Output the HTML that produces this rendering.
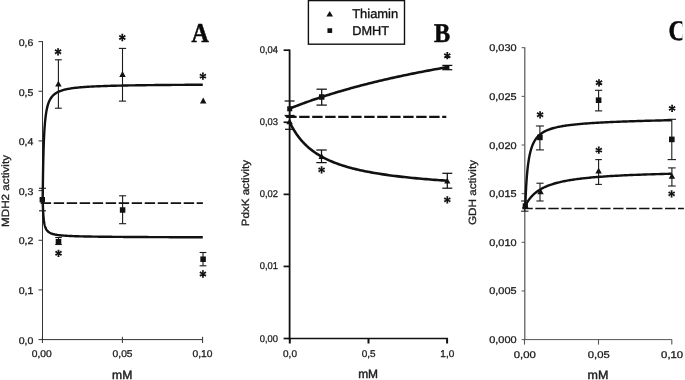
<!DOCTYPE html>
<html><head><meta charset="utf-8"><title>Figure</title>
<style>
html,body{margin:0;padding:0;background:#fff;}
body{width:685px;height:380px;overflow:hidden;font-family:"Liberation Sans",sans-serif;}
svg{display:block;}
</style></head><body>
<svg width="685" height="380" viewBox="0 0 685 380">
<rect width="685" height="380" fill="#fff"/>
<g opacity="0.999" text-rendering="geometricPrecision">
<line x1="42.5" y1="41.1" x2="42.5" y2="340.1" stroke="#333" stroke-width="1" />
<line x1="42.0" y1="339.6" x2="202.6" y2="339.6" stroke="#333" stroke-width="1" />
<line x1="38.5" y1="339.60" x2="42.5" y2="339.60" stroke="#333" stroke-width="1" />
<text x="33.4" y="343.56" font-family="Liberation Sans" font-size="9.8" font-weight="normal" text-anchor="end" fill="#222" stroke="#222" stroke-width="0.3" textLength="14.7" lengthAdjust="spacingAndGlyphs" >0,0</text>
<line x1="38.5" y1="289.93" x2="42.5" y2="289.93" stroke="#333" stroke-width="1" />
<text x="33.4" y="294.01" font-family="Liberation Sans" font-size="9.8" font-weight="normal" text-anchor="end" fill="#222" stroke="#222" stroke-width="0.3" textLength="14.7" lengthAdjust="spacingAndGlyphs" >0,1</text>
<line x1="38.5" y1="240.27" x2="42.5" y2="240.27" stroke="#333" stroke-width="1" />
<text x="33.4" y="244.46" font-family="Liberation Sans" font-size="9.8" font-weight="normal" text-anchor="end" fill="#222" stroke="#222" stroke-width="0.3" textLength="14.7" lengthAdjust="spacingAndGlyphs" >0,2</text>
<line x1="38.5" y1="190.60" x2="42.5" y2="190.60" stroke="#333" stroke-width="1" />
<text x="33.4" y="194.91" font-family="Liberation Sans" font-size="9.8" font-weight="normal" text-anchor="end" fill="#222" stroke="#222" stroke-width="0.3" textLength="14.7" lengthAdjust="spacingAndGlyphs" >0,3</text>
<line x1="38.5" y1="140.93" x2="42.5" y2="140.93" stroke="#333" stroke-width="1" />
<text x="33.4" y="145.36" font-family="Liberation Sans" font-size="9.8" font-weight="normal" text-anchor="end" fill="#222" stroke="#222" stroke-width="0.3" textLength="14.7" lengthAdjust="spacingAndGlyphs" >0,4</text>
<line x1="38.5" y1="91.27" x2="42.5" y2="91.27" stroke="#333" stroke-width="1" />
<text x="33.4" y="95.81" font-family="Liberation Sans" font-size="9.8" font-weight="normal" text-anchor="end" fill="#222" stroke="#222" stroke-width="0.3" textLength="14.7" lengthAdjust="spacingAndGlyphs" >0,5</text>
<line x1="38.5" y1="41.60" x2="42.5" y2="41.60" stroke="#333" stroke-width="1" />
<text x="33.4" y="46.26" font-family="Liberation Sans" font-size="9.8" font-weight="normal" text-anchor="end" fill="#222" stroke="#222" stroke-width="0.3" textLength="14.7" lengthAdjust="spacingAndGlyphs" >0,6</text>
<line x1="42.4" y1="336.8" x2="42.4" y2="343.0" stroke="#333" stroke-width="1" />
<text x="41.8" y="356.7" font-family="Liberation Sans" font-size="9.8" font-weight="normal" text-anchor="middle" fill="#222" stroke="#222" stroke-width="0.3" textLength="20.0" lengthAdjust="spacingAndGlyphs" >0,00</text>
<line x1="122.4" y1="336.8" x2="122.4" y2="343.0" stroke="#333" stroke-width="1" />
<text x="122.6" y="356.7" font-family="Liberation Sans" font-size="9.8" font-weight="normal" text-anchor="middle" fill="#222" stroke="#222" stroke-width="0.3" textLength="20.0" lengthAdjust="spacingAndGlyphs" >0,05</text>
<line x1="202.6" y1="336.8" x2="202.6" y2="343.0" stroke="#333" stroke-width="1" />
<text x="202.5" y="356.7" font-family="Liberation Sans" font-size="9.8" font-weight="normal" text-anchor="middle" fill="#222" stroke="#222" stroke-width="0.3" textLength="20.0" lengthAdjust="spacingAndGlyphs" >0,10</text>
<text x="122.2" y="378.5" font-family="Liberation Sans" font-size="12" font-weight="normal" text-anchor="middle" fill="#222" stroke="#222" stroke-width="0.45" textLength="20.2" lengthAdjust="spacingAndGlyphs" >mM</text>
<text transform="translate(8.6,191) rotate(-90)" font-family="Liberation Sans" font-size="10.5" text-anchor="middle" fill="#222" stroke="#222" stroke-width="0.3" textLength="72" lengthAdjust="spacingAndGlyphs">MDH2 activity</text>
<line x1="40.7" y1="203.0" x2="202.9" y2="203.0" stroke="#111" stroke-width="1.75" stroke-dasharray="10.4 2.6"/>
<path d="M42.70,199.60 L42.70,199.55 L42.70,199.32 L42.71,198.83 L42.72,198.03 L42.73,196.88 L42.74,195.37 L42.76,193.49 L42.79,191.25 L42.82,188.66 L42.86,185.75 L42.90,182.58 L42.95,179.17 L43.00,175.58 L43.06,171.87 L43.13,168.07 L43.21,164.23 L43.29,160.41 L43.38,156.62 L43.48,152.91 L43.58,149.30 L43.70,145.81 L43.82,142.45 L43.95,139.24 L44.10,136.18 L44.25,133.27 L44.40,130.52 L44.57,127.92 L44.75,125.47 L44.94,123.16 L45.14,120.99 L45.35,118.96 L45.56,117.05 L45.79,115.26 L46.03,113.58 L46.28,112.01 L46.54,110.54 L46.82,109.16 L47.10,107.87 L47.40,106.66 L47.70,105.52 L48.02,104.46 L48.35,103.46 L48.69,102.52 L49.05,101.64 L49.42,100.81 L49.80,100.04 L50.19,99.30 L50.59,98.61 L51.01,97.97 L51.44,97.35 L51.88,96.78 L52.34,96.23 L52.81,95.72 L53.29,95.23 L53.79,94.77 L54.30,94.33 L54.83,93.92 L55.37,93.53 L55.92,93.16 L56.49,92.81 L57.07,92.47 L57.66,92.16 L58.28,91.86 L58.90,91.57 L59.54,91.30 L60.20,91.04 L60.87,90.79 L61.55,90.55 L62.25,90.33 L62.97,90.11 L63.70,89.91 L64.45,89.71 L65.21,89.52 L65.99,89.34 L66.78,89.17 L67.60,89.01 L68.42,88.85 L69.27,88.70 L70.13,88.56 L71.00,88.42 L71.89,88.28 L72.80,88.16 L73.73,88.03 L74.67,87.92 L75.63,87.80 L76.61,87.69 L77.61,87.59 L78.62,87.49 L79.65,87.39 L80.69,87.30 L81.76,87.21 L82.84,87.12 L83.94,87.04 L85.06,86.96 L86.19,86.88 L87.34,86.81 L88.52,86.73 L89.71,86.66 L90.91,86.60 L92.14,86.53 L93.39,86.47 L94.65,86.41 L95.93,86.35 L97.23,86.29 L98.56,86.23 L99.89,86.18 L101.25,86.13 L102.63,86.08 L104.03,86.03 L105.44,85.98 L106.88,85.94 L108.34,85.89 L109.81,85.85 L111.30,85.81 L112.82,85.77 L114.35,85.73 L115.91,85.69 L117.48,85.65 L119.08,85.62 L120.69,85.58 L122.33,85.55 L123.98,85.51 L125.66,85.48 L127.35,85.45 L129.07,85.42 L130.81,85.39 L132.57,85.36 L134.35,85.33 L136.15,85.31 L137.97,85.28 L139.81,85.25 L141.68,85.23 L143.56,85.20 L145.47,85.18 L147.39,85.16 L149.34,85.13 L151.32,85.11 L153.31,85.09 L155.32,85.07 L157.36,85.05 L159.42,85.03 L161.50,85.01 L163.60,84.99 L165.73,84.97 L167.87,84.95 L170.04,84.94 L172.23,84.92 L174.45,84.90 L176.69,84.88 L178.94,84.87 L181.23,84.85 L183.53,84.84 L185.86,84.82 L188.21,84.81 L190.58,84.79 L192.98,84.78 L195.40,84.76 L197.84,84.75 L200.31,84.74 L202.80,84.73" fill="none" stroke="#111" stroke-width="2.4" stroke-linejoin="round" stroke-linecap="butt"/>
<path d="M42.70,199.60 L42.70,199.62 L42.70,199.71 L42.71,199.90 L42.72,200.22 L42.73,200.66 L42.74,201.25 L42.76,201.98 L42.79,202.84 L42.82,203.82 L42.86,204.91 L42.90,206.10 L42.95,207.35 L43.00,208.65 L43.06,209.99 L43.13,211.33 L43.21,212.67 L43.29,213.99 L43.38,215.28 L43.48,216.53 L43.58,217.73 L43.70,218.88 L43.82,219.97 L43.95,221.00 L44.10,221.97 L44.25,222.89 L44.40,223.75 L44.57,224.55 L44.75,225.30 L44.94,226.00 L45.14,226.66 L45.35,227.27 L45.56,227.84 L45.79,228.37 L46.03,228.87 L46.28,229.33 L46.54,229.76 L46.82,230.16 L47.10,230.53 L47.40,230.88 L47.70,231.21 L48.02,231.52 L48.35,231.80 L48.69,232.07 L49.05,232.32 L49.42,232.55 L49.80,232.77 L50.19,232.98 L50.59,233.18 L51.01,233.36 L51.44,233.53 L51.88,233.69 L52.34,233.85 L52.81,233.99 L53.29,234.13 L53.79,234.26 L54.30,234.38 L54.83,234.49 L55.37,234.60 L55.92,234.71 L56.49,234.80 L57.07,234.90 L57.66,234.99 L58.28,235.07 L58.90,235.15 L59.54,235.23 L60.20,235.30 L60.87,235.37 L61.55,235.43 L62.25,235.50 L62.97,235.56 L63.70,235.61 L64.45,235.67 L65.21,235.72 L65.99,235.77 L66.78,235.82 L67.60,235.87 L68.42,235.91 L69.27,235.95 L70.13,236.00 L71.00,236.04 L71.89,236.07 L72.80,236.11 L73.73,236.15 L74.67,236.18 L75.63,236.21 L76.61,236.24 L77.61,236.27 L78.62,236.30 L79.65,236.33 L80.69,236.36 L81.76,236.39 L82.84,236.41 L83.94,236.44 L85.06,236.46 L86.19,236.48 L87.34,236.51 L88.52,236.53 L89.71,236.55 L90.91,236.57 L92.14,236.59 L93.39,236.61 L94.65,236.63 L95.93,236.65 L97.23,236.67 L98.56,236.68 L99.89,236.70 L101.25,236.72 L102.63,236.73 L104.03,236.75 L105.44,236.76 L106.88,236.78 L108.34,236.79 L109.81,236.81 L111.30,236.82 L112.82,236.84 L114.35,236.85 L115.91,236.86 L117.48,236.88 L119.08,236.89 L120.69,236.90 L122.33,236.92 L123.98,236.93 L125.66,236.94 L127.35,236.95 L129.07,236.96 L130.81,236.98 L132.57,236.99 L134.35,237.00 L136.15,237.01 L137.97,237.02 L139.81,237.03 L141.68,237.04 L143.56,237.05 L145.47,237.06 L147.39,237.07 L149.34,237.08 L151.32,237.09 L153.31,237.10 L155.32,237.11 L157.36,237.12 L159.42,237.13 L161.50,237.14 L163.60,237.15 L165.73,237.16 L167.87,237.17 L170.04,237.18 L172.23,237.19 L174.45,237.19 L176.69,237.20 L178.94,237.21 L181.23,237.22 L183.53,237.23 L185.86,237.24 L188.21,237.25 L190.58,237.26 L192.98,237.26 L195.40,237.27 L197.84,237.28 L200.31,237.29 L202.80,237.30" fill="none" stroke="#111" stroke-width="2.4" stroke-linejoin="round" stroke-linecap="butt"/>
<line x1="42.5" y1="188.3" x2="42.5" y2="210.8" stroke="#1a1a1a" stroke-width="1.1" />
<line x1="39.0" y1="188.3" x2="46.0" y2="188.3" stroke="#1a1a1a" stroke-width="1.1" />
<line x1="39.0" y1="210.8" x2="46.0" y2="210.8" stroke="#1a1a1a" stroke-width="1.1" />
<rect x="39.60" y="197.00" width="5.4" height="5.4" fill="#111"/>
<line x1="58.4" y1="59.8" x2="58.4" y2="108.2" stroke="#1a1a1a" stroke-width="1.1" />
<line x1="55.0" y1="59.8" x2="61.8" y2="59.8" stroke="#1a1a1a" stroke-width="1.1" />
<line x1="55.0" y1="108.2" x2="61.8" y2="108.2" stroke="#1a1a1a" stroke-width="1.1" />
<path d="M55.15,86.50 L61.65,86.50 L58.40,80.70 Z" fill="#111"/>
<line x1="122.5" y1="48.4" x2="122.5" y2="101.1" stroke="#1a1a1a" stroke-width="1.1" />
<line x1="118.9" y1="48.4" x2="126.1" y2="48.4" stroke="#1a1a1a" stroke-width="1.1" />
<line x1="118.9" y1="101.1" x2="126.1" y2="101.1" stroke="#1a1a1a" stroke-width="1.1" />
<path d="M119.25,76.90 L125.75,76.90 L122.50,71.10 Z" fill="#111"/>
<path d="M199.95,103.40 L206.45,103.40 L203.20,97.60 Z" fill="#111"/>
<line x1="58.5" y1="237.5" x2="58.5" y2="244.5" stroke="#1a1a1a" stroke-width="1.1" />
<line x1="55.2" y1="237.5" x2="61.8" y2="237.5" stroke="#1a1a1a" stroke-width="1.1" />
<line x1="55.2" y1="244.5" x2="61.8" y2="244.5" stroke="#1a1a1a" stroke-width="1.1" />
<rect x="55.70" y="238.90" width="5.6" height="5.6" fill="#111"/>
<line x1="122.6" y1="195.8" x2="122.6" y2="223.7" stroke="#1a1a1a" stroke-width="1.1" />
<line x1="119.1" y1="195.8" x2="126.1" y2="195.8" stroke="#1a1a1a" stroke-width="1.1" />
<line x1="119.1" y1="223.7" x2="126.1" y2="223.7" stroke="#1a1a1a" stroke-width="1.1" />
<rect x="119.85" y="207.25" width="5.5" height="5.5" fill="#111"/>
<line x1="203.0" y1="252.5" x2="203.0" y2="265.8" stroke="#1a1a1a" stroke-width="1.1" />
<line x1="199.6" y1="252.5" x2="206.4" y2="252.5" stroke="#1a1a1a" stroke-width="1.1" />
<line x1="199.6" y1="265.8" x2="206.4" y2="265.8" stroke="#1a1a1a" stroke-width="1.1" />
<rect x="200.35" y="256.45" width="5.5" height="5.5" fill="#111"/>
<path d="M58.55,51.80 L59.05,48.15 L57.05,48.15 L57.55,51.80Z M58.31,52.23 L61.61,50.83 L60.58,49.11 L57.79,51.37Z M58.31,51.37 L55.52,49.11 L54.49,50.83 L57.79,52.23Z M57.55,51.80 L57.05,55.45 L59.05,55.45 L58.55,51.80Z M57.79,51.37 L54.49,52.77 L55.52,54.49 L58.31,52.23Z M57.79,52.23 L60.58,54.49 L61.61,52.77 L58.31,51.37Z" fill="#111"/>
<circle cx="58.05" cy="51.80" r="0.9" fill="#111"/>
<path d="M122.80,37.50 L123.30,33.85 L121.30,33.85 L121.80,37.50Z M122.56,37.93 L125.86,36.53 L124.83,34.81 L122.04,37.07Z M122.56,37.07 L119.77,34.81 L118.74,36.53 L122.04,37.93Z M121.80,37.50 L121.30,41.15 L123.30,41.15 L122.80,37.50Z M122.04,37.07 L118.74,38.47 L119.77,40.19 L122.56,37.93Z M122.04,37.93 L124.83,40.19 L125.86,38.47 L122.56,37.07Z" fill="#111"/>
<circle cx="122.30" cy="37.50" r="0.9" fill="#111"/>
<path d="M203.40,76.10 L203.90,72.45 L201.90,72.45 L202.40,76.10Z M203.16,76.53 L206.46,75.13 L205.43,73.41 L202.64,75.67Z M203.16,75.67 L200.37,73.41 L199.34,75.13 L202.64,76.53Z M202.40,76.10 L201.90,79.75 L203.90,79.75 L203.40,76.10Z M202.64,75.67 L199.34,77.07 L200.37,78.79 L203.16,76.53Z M202.64,76.53 L205.43,78.79 L206.46,77.07 L203.16,75.67Z" fill="#111"/>
<circle cx="202.90" cy="76.10" r="0.9" fill="#111"/>
<path d="M59.00,253.30 L59.50,249.65 L57.50,249.65 L58.00,253.30Z M58.76,253.73 L62.06,252.33 L61.03,250.61 L58.24,252.87Z M58.76,252.87 L55.97,250.61 L54.94,252.33 L58.24,253.73Z M58.00,253.30 L57.50,256.95 L59.50,256.95 L59.00,253.30Z M58.24,252.87 L54.94,254.27 L55.97,255.99 L58.76,253.73Z M58.24,253.73 L61.03,255.99 L62.06,254.27 L58.76,252.87Z" fill="#111"/>
<circle cx="58.50" cy="253.30" r="0.9" fill="#111"/>
<path d="M203.40,274.00 L203.90,270.35 L201.90,270.35 L202.40,274.00Z M203.16,274.43 L206.46,273.03 L205.43,271.31 L202.64,273.57Z M203.16,273.57 L200.37,271.31 L199.34,273.03 L202.64,274.43Z M202.40,274.00 L201.90,277.65 L203.90,277.65 L203.40,274.00Z M202.64,273.57 L199.34,274.97 L200.37,276.69 L203.16,274.43Z M202.64,274.43 L205.43,276.69 L206.46,274.97 L203.16,273.57Z" fill="#111"/>
<circle cx="202.90" cy="274.00" r="0.9" fill="#111"/>
<text transform="translate(200.2,41.7) scale(0.96,1.09)" font-family="Liberation Serif" font-size="25" font-weight="bold" text-anchor="middle" fill="#0a0a0a" stroke="#0a0a0a" stroke-width="0.5" >A</text>
<line x1="289.6" y1="49.400000000000006" x2="289.6" y2="339.3" stroke="#111" stroke-width="1.8" />
<line x1="288.8" y1="338.5" x2="447.9" y2="338.5" stroke="#111" stroke-width="1.7" />
<line x1="283.6" y1="338.50" x2="289.6" y2="338.50" stroke="#111" stroke-width="1.7" />
<text x="278.0" y="341.50" font-family="Liberation Sans" font-size="9.8" font-weight="normal" text-anchor="end" fill="#222" stroke="#222" stroke-width="0.3" textLength="18.2" lengthAdjust="spacingAndGlyphs" >0,00</text>
<line x1="283.6" y1="266.43" x2="289.6" y2="266.43" stroke="#111" stroke-width="1.7" />
<text x="278.0" y="269.43" font-family="Liberation Sans" font-size="9.8" font-weight="normal" text-anchor="end" fill="#222" stroke="#222" stroke-width="0.3" textLength="18.2" lengthAdjust="spacingAndGlyphs" >0,01</text>
<line x1="283.6" y1="194.35" x2="289.6" y2="194.35" stroke="#111" stroke-width="1.7" />
<text x="278.0" y="197.35" font-family="Liberation Sans" font-size="9.8" font-weight="normal" text-anchor="end" fill="#222" stroke="#222" stroke-width="0.3" textLength="18.2" lengthAdjust="spacingAndGlyphs" >0,02</text>
<line x1="283.6" y1="122.27" x2="289.6" y2="122.27" stroke="#111" stroke-width="1.7" />
<text x="278.0" y="125.27" font-family="Liberation Sans" font-size="9.8" font-weight="normal" text-anchor="end" fill="#222" stroke="#222" stroke-width="0.3" textLength="18.2" lengthAdjust="spacingAndGlyphs" >0,03</text>
<line x1="283.6" y1="50.20" x2="289.6" y2="50.20" stroke="#111" stroke-width="1.7" />
<text x="278.0" y="53.20" font-family="Liberation Sans" font-size="9.8" font-weight="normal" text-anchor="end" fill="#222" stroke="#222" stroke-width="0.3" textLength="18.2" lengthAdjust="spacingAndGlyphs" >0,04</text>
<line x1="289.8" y1="338.5" x2="289.8" y2="343.5" stroke="#111" stroke-width="2.0" />
<text x="290.0" y="356.5" font-family="Liberation Sans" font-size="9.8" font-weight="normal" text-anchor="middle" fill="#222" stroke="#222" stroke-width="0.3" textLength="13.9" lengthAdjust="spacingAndGlyphs" >0,0</text>
<line x1="368.5" y1="338.5" x2="368.5" y2="343.5" stroke="#111" stroke-width="2.0" />
<text x="368.7" y="356.5" font-family="Liberation Sans" font-size="9.8" font-weight="normal" text-anchor="middle" fill="#222" stroke="#222" stroke-width="0.3" textLength="13.9" lengthAdjust="spacingAndGlyphs" >0,5</text>
<line x1="447.1" y1="338.5" x2="447.1" y2="343.5" stroke="#111" stroke-width="2.0" />
<text x="447.3" y="356.5" font-family="Liberation Sans" font-size="9.8" font-weight="normal" text-anchor="middle" fill="#222" stroke="#222" stroke-width="0.3" textLength="13.9" lengthAdjust="spacingAndGlyphs" >1,0</text>
<text x="368.1" y="377.7" font-family="Liberation Sans" font-size="12" font-weight="normal" text-anchor="middle" fill="#222" stroke="#222" stroke-width="0.45" textLength="19.9" lengthAdjust="spacingAndGlyphs" >mM</text>
<text transform="translate(248.9,193.1) rotate(-90)" font-family="Liberation Sans" font-size="10.5" text-anchor="middle" fill="#222" stroke="#222" stroke-width="0.3" textLength="66.3" lengthAdjust="spacingAndGlyphs">PdxK activity</text>
<rect x="308.4" y="0.6" width="96.1" height="43.6" fill="none" stroke="#111" stroke-width="1.4"/>
<path d="M326.40,16.60 L333.00,16.60 L329.70,11.00 Z" fill="#111"/>
<rect x="327.45" y="28.25" width="4.7" height="4.7" fill="#111"/>
<text x="352.2" y="18.4" font-family="Liberation Sans" font-size="12.8" font-weight="normal" text-anchor="start" fill="#111" stroke="#111" stroke-width="0.35" textLength="46.0" lengthAdjust="spacingAndGlyphs" >Thiamin</text>
<text x="352.2" y="35.2" font-family="Liberation Sans" font-size="12.8" font-weight="normal" text-anchor="start" fill="#111" stroke="#111" stroke-width="0.35" textLength="36.8" lengthAdjust="spacingAndGlyphs" >DMHT</text>
<line x1="286.2" y1="116.9" x2="446.3" y2="116.9" stroke="#111" stroke-width="2.3" stroke-dasharray="10.4 2.6"/>
<path d="M289.60,108.60 L289.60,108.60 L289.60,108.60 L289.61,108.60 L289.62,108.59 L289.63,108.59 L289.64,108.58 L289.66,108.57 L289.69,108.56 L289.72,108.55 L289.75,108.54 L289.80,108.52 L289.84,108.50 L289.90,108.48 L289.96,108.46 L290.02,108.43 L290.10,108.40 L290.18,108.37 L290.27,108.33 L290.36,108.29 L290.47,108.25 L290.58,108.21 L290.70,108.16 L290.83,108.11 L290.97,108.05 L291.12,108.00 L291.28,107.93 L291.44,107.87 L291.62,107.80 L291.80,107.73 L292.00,107.65 L292.20,107.57 L292.42,107.48 L292.64,107.40 L292.88,107.30 L293.12,107.21 L293.38,107.11 L293.65,107.00 L293.93,106.89 L294.22,106.78 L294.52,106.66 L294.83,106.54 L295.16,106.42 L295.49,106.29 L295.84,106.15 L296.20,106.02 L296.58,105.87 L296.96,105.73 L297.36,105.57 L297.77,105.42 L298.19,105.26 L298.63,105.09 L299.08,104.92 L299.54,104.75 L300.02,104.57 L300.50,104.39 L301.01,104.20 L301.52,104.01 L302.05,103.82 L302.60,103.62 L303.15,103.41 L303.73,103.20 L304.31,102.99 L304.91,102.77 L305.53,102.55 L306.16,102.32 L306.80,102.09 L307.46,101.85 L308.13,101.61 L308.82,101.37 L309.53,101.12 L310.25,100.87 L310.98,100.61 L311.73,100.35 L312.50,100.09 L313.28,99.82 L314.08,99.54 L314.89,99.27 L315.72,98.98 L316.56,98.70 L317.42,98.41 L318.30,98.12 L319.20,97.82 L320.11,97.52 L321.03,97.21 L321.98,96.90 L322.94,96.59 L323.92,96.27 L324.91,95.95 L325.92,95.63 L326.95,95.30 L328.00,94.97 L329.06,94.64 L330.14,94.30 L331.24,93.96 L332.36,93.62 L333.49,93.27 L334.64,92.92 L335.81,92.57 L337.00,92.21 L338.21,91.85 L339.43,91.49 L340.67,91.13 L341.94,90.76 L343.22,90.39 L344.51,90.01 L345.83,89.64 L347.17,89.26 L348.52,88.88 L349.89,88.50 L351.29,88.11 L352.70,87.72 L354.13,87.33 L355.58,86.94 L357.05,86.55 L358.54,86.15 L360.04,85.75 L361.57,85.35 L363.12,84.95 L364.69,84.55 L366.28,84.14 L367.88,83.73 L369.51,83.32 L371.16,82.91 L372.83,82.50 L374.51,82.09 L376.22,81.67 L377.95,81.26 L379.70,80.84 L381.47,80.42 L383.26,80.00 L385.07,79.58 L386.91,79.16 L388.76,78.74 L390.63,78.32 L392.53,77.89 L394.45,77.47 L396.38,77.04 L398.34,76.62 L400.32,76.19 L402.33,75.77 L404.35,75.34 L406.40,74.91 L408.46,74.48 L410.55,74.05 L412.66,73.63 L414.79,73.20 L416.95,72.77 L419.13,72.34 L421.33,71.91 L423.55,71.48 L425.79,71.06 L428.06,70.63 L430.35,70.20 L432.66,69.77 L434.99,69.34 L437.35,68.92 L439.73,68.49 L442.13,68.06 L444.55,67.64 L447.00,67.21" fill="none" stroke="#111" stroke-width="2.6" stroke-linejoin="round" stroke-linecap="butt"/>
<path d="M289.60,122.00 L289.60,122.00 L289.60,122.01 L289.61,122.02 L289.62,122.03 L289.63,122.06 L289.64,122.09 L289.66,122.13 L289.69,122.18 L289.72,122.25 L289.75,122.32 L289.80,122.41 L289.84,122.51 L289.90,122.62 L289.96,122.74 L290.02,122.88 L290.10,123.03 L290.18,123.20 L290.27,123.38 L290.36,123.57 L290.47,123.78 L290.58,124.00 L290.70,124.24 L290.83,124.50 L290.97,124.77 L291.12,125.05 L291.28,125.35 L291.44,125.67 L291.62,126.00 L291.80,126.34 L292.00,126.70 L292.20,127.07 L292.42,127.46 L292.64,127.86 L292.88,128.28 L293.12,128.70 L293.38,129.14 L293.65,129.60 L293.93,130.06 L294.22,130.54 L294.52,131.02 L294.83,131.52 L295.16,132.03 L295.49,132.55 L295.84,133.08 L296.20,133.61 L296.58,134.16 L296.96,134.71 L297.36,135.27 L297.77,135.83 L298.19,136.40 L298.63,136.98 L299.08,137.56 L299.54,138.15 L300.02,138.74 L300.50,139.34 L301.01,139.94 L301.52,140.54 L302.05,141.14 L302.60,141.75 L303.15,142.35 L303.73,142.96 L304.31,143.56 L304.91,144.17 L305.53,144.78 L306.16,145.38 L306.80,145.99 L307.46,146.59 L308.13,147.19 L308.82,147.79 L309.53,148.38 L310.25,148.98 L310.98,149.57 L311.73,150.15 L312.50,150.73 L313.28,151.31 L314.08,151.89 L314.89,152.45 L315.72,153.02 L316.56,153.58 L317.42,154.13 L318.30,154.68 L319.20,155.23 L320.11,155.77 L321.03,156.30 L321.98,156.83 L322.94,157.35 L323.92,157.87 L324.91,158.38 L325.92,158.88 L326.95,159.38 L328.00,159.87 L329.06,160.35 L330.14,160.83 L331.24,161.31 L332.36,161.77 L333.49,162.23 L334.64,162.69 L335.81,163.14 L337.00,163.58 L338.21,164.01 L339.43,164.44 L340.67,164.87 L341.94,165.28 L343.22,165.69 L344.51,166.10 L345.83,166.50 L347.17,166.89 L348.52,167.27 L349.89,167.65 L351.29,168.03 L352.70,168.40 L354.13,168.76 L355.58,169.12 L357.05,169.47 L358.54,169.82 L360.04,170.16 L361.57,170.49 L363.12,170.82 L364.69,171.15 L366.28,171.47 L367.88,171.78 L369.51,172.09 L371.16,172.39 L372.83,172.69 L374.51,172.99 L376.22,173.27 L377.95,173.56 L379.70,173.84 L381.47,174.11 L383.26,174.38 L385.07,174.65 L386.91,174.91 L388.76,175.17 L390.63,175.42 L392.53,175.67 L394.45,175.92 L396.38,176.16 L398.34,176.39 L400.32,176.63 L402.33,176.85 L404.35,177.08 L406.40,177.30 L408.46,177.52 L410.55,177.73 L412.66,177.94 L414.79,178.15 L416.95,178.35 L419.13,178.55 L421.33,178.75 L423.55,178.95 L425.79,179.14 L428.06,179.32 L430.35,179.51 L432.66,179.69 L434.99,179.87 L437.35,180.04 L439.73,180.22 L442.13,180.39 L444.55,180.55 L447.00,180.72" fill="none" stroke="#111" stroke-width="2.6" stroke-linejoin="round" stroke-linecap="butt"/>
<line x1="289.6" y1="101" x2="289.6" y2="115.5" stroke="#111" stroke-width="1.25" />
<line x1="284.6" y1="101" x2="294.6" y2="101" stroke="#111" stroke-width="1.25" />
<line x1="284.6" y1="115.5" x2="294.6" y2="115.5" stroke="#111" stroke-width="1.25" />
<rect x="287.20" y="106.30" width="5.0" height="5.0" fill="#111"/>
<line x1="321.7" y1="89.2" x2="321.7" y2="105.1" stroke="#111" stroke-width="1.25" />
<line x1="316.5" y1="89.2" x2="326.9" y2="89.2" stroke="#111" stroke-width="1.25" />
<line x1="316.5" y1="105.1" x2="326.9" y2="105.1" stroke="#111" stroke-width="1.25" />
<rect x="318.95" y="94.25" width="5.5" height="5.5" fill="#111"/>
<line x1="447.3" y1="65.4" x2="447.3" y2="69.7" stroke="#111" stroke-width="1.25" />
<line x1="442.3" y1="65.4" x2="452.3" y2="65.4" stroke="#111" stroke-width="1.25" />
<line x1="442.3" y1="69.7" x2="452.3" y2="69.7" stroke="#111" stroke-width="1.25" />
<rect x="445.00" y="65.30" width="4.4" height="4.4" fill="#111"/>
<line x1="289.6" y1="116" x2="289.6" y2="129.3" stroke="#111" stroke-width="1.25" />
<line x1="285.0" y1="116" x2="294.20000000000005" y2="116" stroke="#111" stroke-width="1.25" />
<line x1="285.0" y1="129.3" x2="294.20000000000005" y2="129.3" stroke="#111" stroke-width="1.25" />
<path d="M286.35,124.30 L292.85,124.30 L289.60,118.50 Z" fill="#111"/>
<line x1="321.5" y1="150.0" x2="321.5" y2="162.6" stroke="#111" stroke-width="1.25" />
<line x1="316.3" y1="150.0" x2="326.7" y2="150.0" stroke="#111" stroke-width="1.25" />
<line x1="316.3" y1="162.6" x2="326.7" y2="162.6" stroke="#111" stroke-width="1.25" />
<path d="M318.50,159.10 L324.70,159.10 L321.60,153.30 Z" fill="#111"/>
<line x1="447.3" y1="173.3" x2="447.3" y2="188.2" stroke="#111" stroke-width="1.25" />
<line x1="442.3" y1="173.3" x2="452.3" y2="173.3" stroke="#111" stroke-width="1.25" />
<line x1="442.3" y1="188.2" x2="452.3" y2="188.2" stroke="#111" stroke-width="1.25" />
<path d="M444.20,183.50 L450.40,183.50 L447.30,177.70 Z" fill="#111"/>
<path d="M447.80,55.70 L448.30,52.05 L446.30,52.05 L446.80,55.70Z M447.56,56.13 L450.86,54.73 L449.83,53.01 L447.04,55.27Z M447.56,55.27 L444.77,53.01 L443.74,54.73 L447.04,56.13Z M446.80,55.70 L446.30,59.35 L448.30,59.35 L447.80,55.70Z M447.04,55.27 L443.74,56.67 L444.77,58.39 L447.56,56.13Z M447.04,56.13 L449.83,58.39 L450.86,56.67 L447.56,55.27Z" fill="#111"/>
<circle cx="447.30" cy="55.70" r="0.9" fill="#111"/>
<path d="M322.10,169.90 L322.60,166.25 L320.60,166.25 L321.10,169.90Z M321.86,170.33 L325.16,168.93 L324.13,167.21 L321.34,169.47Z M321.86,169.47 L319.07,167.21 L318.04,168.93 L321.34,170.33Z M321.10,169.90 L320.60,173.55 L322.60,173.55 L322.10,169.90Z M321.34,169.47 L318.04,170.87 L319.07,172.59 L321.86,170.33Z M321.34,170.33 L324.13,172.59 L325.16,170.87 L321.86,169.47Z" fill="#111"/>
<circle cx="321.60" cy="169.90" r="0.9" fill="#111"/>
<path d="M447.80,199.90 L448.30,196.25 L446.30,196.25 L446.80,199.90Z M447.56,200.33 L450.86,198.93 L449.83,197.21 L447.04,199.47Z M447.56,199.47 L444.77,197.21 L443.74,198.93 L447.04,200.33Z M446.80,199.90 L446.30,203.55 L448.30,203.55 L447.80,199.90Z M447.04,199.47 L443.74,200.87 L444.77,202.59 L447.56,200.33Z M447.04,200.33 L449.83,202.59 L450.86,200.87 L447.56,199.47Z" fill="#111"/>
<circle cx="447.30" cy="199.90" r="0.9" fill="#111"/>
<text transform="translate(442.0,41.7) scale(0.97,1.09)" font-family="Liberation Serif" font-size="25" font-weight="bold" text-anchor="middle" fill="#0a0a0a" stroke="#0a0a0a" stroke-width="0.5" >B</text>
<line x1="524.8" y1="47.2" x2="524.8" y2="340.1" stroke="#555" stroke-width="1.2" />
<line x1="524.3" y1="339.6" x2="671.8" y2="339.6" stroke="#555" stroke-width="1" />
<line x1="521.5999999999999" y1="339.60" x2="524.8" y2="339.60" stroke="#555" stroke-width="1" />
<text x="516.6" y="343.10" font-family="Liberation Sans" font-size="9.8" font-weight="normal" text-anchor="end" fill="#222" stroke="#222" stroke-width="0.3" textLength="27.4" lengthAdjust="spacingAndGlyphs" >0,000</text>
<line x1="521.5999999999999" y1="290.95" x2="524.8" y2="290.95" stroke="#555" stroke-width="1" />
<text x="516.6" y="294.45" font-family="Liberation Sans" font-size="9.8" font-weight="normal" text-anchor="end" fill="#222" stroke="#222" stroke-width="0.3" textLength="27.4" lengthAdjust="spacingAndGlyphs" >0,005</text>
<line x1="521.5999999999999" y1="242.30" x2="524.8" y2="242.30" stroke="#555" stroke-width="1" />
<text x="516.6" y="245.80" font-family="Liberation Sans" font-size="9.8" font-weight="normal" text-anchor="end" fill="#222" stroke="#222" stroke-width="0.3" textLength="27.4" lengthAdjust="spacingAndGlyphs" >0,010</text>
<line x1="521.5999999999999" y1="193.65" x2="524.8" y2="193.65" stroke="#555" stroke-width="1" />
<text x="516.6" y="197.15" font-family="Liberation Sans" font-size="9.8" font-weight="normal" text-anchor="end" fill="#222" stroke="#222" stroke-width="0.3" textLength="27.4" lengthAdjust="spacingAndGlyphs" >0,015</text>
<line x1="521.5999999999999" y1="145.00" x2="524.8" y2="145.00" stroke="#555" stroke-width="1" />
<text x="516.6" y="148.50" font-family="Liberation Sans" font-size="9.8" font-weight="normal" text-anchor="end" fill="#222" stroke="#222" stroke-width="0.3" textLength="27.4" lengthAdjust="spacingAndGlyphs" >0,020</text>
<line x1="521.5999999999999" y1="96.35" x2="524.8" y2="96.35" stroke="#555" stroke-width="1" />
<text x="516.6" y="99.85" font-family="Liberation Sans" font-size="9.8" font-weight="normal" text-anchor="end" fill="#222" stroke="#222" stroke-width="0.3" textLength="27.4" lengthAdjust="spacingAndGlyphs" >0,025</text>
<line x1="521.5999999999999" y1="47.70" x2="524.8" y2="47.70" stroke="#555" stroke-width="1" />
<text x="516.6" y="51.20" font-family="Liberation Sans" font-size="9.8" font-weight="normal" text-anchor="end" fill="#222" stroke="#222" stroke-width="0.3" textLength="27.4" lengthAdjust="spacingAndGlyphs" >0,030</text>
<line x1="524.5" y1="339.6" x2="524.5" y2="344.6" stroke="#555" stroke-width="1.1" />
<text x="524.8" y="357.9" font-family="Liberation Sans" font-size="9.8" font-weight="normal" text-anchor="middle" fill="#222" stroke="#222" stroke-width="0.3" textLength="22.0" lengthAdjust="spacingAndGlyphs" >0,00</text>
<line x1="598.5" y1="339.6" x2="598.5" y2="344.6" stroke="#555" stroke-width="1.1" />
<text x="598.8" y="357.9" font-family="Liberation Sans" font-size="9.8" font-weight="normal" text-anchor="middle" fill="#222" stroke="#222" stroke-width="0.3" textLength="22.0" lengthAdjust="spacingAndGlyphs" >0,05</text>
<line x1="671.8" y1="339.6" x2="671.8" y2="344.6" stroke="#555" stroke-width="1.1" />
<text x="672.0999999999999" y="357.9" font-family="Liberation Sans" font-size="9.8" font-weight="normal" text-anchor="middle" fill="#222" stroke="#222" stroke-width="0.3" textLength="22.0" lengthAdjust="spacingAndGlyphs" >0,10</text>
<text x="598.0" y="378.7" font-family="Liberation Sans" font-size="12" font-weight="normal" text-anchor="middle" fill="#222" stroke="#222" stroke-width="0.45" textLength="20.8" lengthAdjust="spacingAndGlyphs" >mM</text>
<text transform="translate(476.2,192.5) rotate(-90)" font-family="Liberation Sans" font-size="10.5" text-anchor="middle" fill="#222" stroke="#222" stroke-width="0.3" textLength="65" lengthAdjust="spacingAndGlyphs">GDH activity</text>
<line x1="522.4" y1="208.5" x2="683.9" y2="208.5" stroke="#111" stroke-width="1.7" stroke-dasharray="10.35 2.62"/>
<path d="M525.30,205.80 L525.30,205.79 L525.30,205.73 L525.31,205.60 L525.31,205.39 L525.33,205.08 L525.34,204.67 L525.36,204.15 L525.38,203.52 L525.41,202.76 L525.44,201.89 L525.48,200.90 L525.53,199.79 L525.58,198.57 L525.63,197.25 L525.69,195.82 L525.76,194.31 L525.84,192.72 L525.92,191.05 L526.01,189.33 L526.11,187.56 L526.21,185.74 L526.33,183.90 L526.45,182.04 L526.58,180.17 L526.71,178.30 L526.86,176.44 L527.01,174.59 L527.18,172.77 L527.35,170.97 L527.53,169.20 L527.72,167.47 L527.92,165.79 L528.13,164.14 L528.35,162.54 L528.58,160.99 L528.82,159.49 L529.07,158.03 L529.33,156.63 L529.60,155.27 L529.88,153.96 L530.17,152.71 L530.47,151.50 L530.79,150.33 L531.11,149.22 L531.45,148.14 L531.79,147.11 L532.15,146.12 L532.52,145.18 L532.90,144.27 L533.30,143.40 L533.70,142.56 L534.12,141.76 L534.55,141.00 L534.99,140.26 L535.45,139.56 L535.92,138.88 L536.40,138.24 L536.89,137.61 L537.40,137.02 L537.92,136.45 L538.45,135.90 L538.99,135.38 L539.55,134.87 L540.12,134.39 L540.71,133.92 L541.31,133.48 L541.92,133.05 L542.55,132.64 L543.19,132.24 L543.85,131.86 L544.52,131.49 L545.20,131.14 L545.90,130.80 L546.61,130.48 L547.34,130.16 L548.08,129.86 L548.84,129.57 L549.61,129.28 L550.40,129.01 L551.20,128.75 L552.01,128.50 L552.85,128.25 L553.69,128.01 L554.56,127.79 L555.44,127.56 L556.33,127.35 L557.24,127.14 L558.17,126.94 L559.11,126.75 L560.07,126.56 L561.04,126.38 L562.03,126.20 L563.04,126.03 L564.06,125.87 L565.10,125.70 L566.15,125.55 L567.22,125.40 L568.31,125.25 L569.42,125.10 L570.54,124.96 L571.68,124.83 L572.84,124.69 L574.01,124.57 L575.20,124.44 L576.41,124.32 L577.64,124.20 L578.88,124.08 L580.14,123.97 L581.42,123.86 L582.71,123.75 L584.03,123.64 L585.36,123.54 L586.71,123.44 L588.08,123.34 L589.46,123.24 L590.87,123.15 L592.29,123.05 L593.73,122.96 L595.19,122.87 L596.67,122.79 L598.16,122.70 L599.68,122.62 L601.21,122.53 L602.76,122.45 L604.33,122.37 L605.92,122.29 L607.53,122.22 L609.16,122.14 L610.81,122.07 L612.48,121.99 L614.16,121.92 L615.87,121.85 L617.59,121.78 L619.34,121.71 L621.10,121.64 L622.89,121.57 L624.69,121.51 L626.51,121.44 L628.36,121.38 L630.22,121.31 L632.10,121.25 L634.01,121.19 L635.93,121.13 L637.88,121.06 L639.84,121.00 L641.83,120.94 L643.83,120.88 L645.86,120.82 L647.90,120.77 L649.97,120.71 L652.06,120.65 L654.17,120.59 L656.30,120.54 L658.45,120.48 L660.62,120.43 L662.81,120.37 L665.03,120.32 L667.26,120.26 L669.52,120.21 L671.80,120.15" fill="none" stroke="#111" stroke-width="2.4" stroke-linejoin="round" stroke-linecap="butt"/>
<path d="M525.30,205.80 L525.30,205.80 L525.30,205.79 L525.31,205.79 L525.31,205.77 L525.33,205.75 L525.34,205.72 L525.36,205.68 L525.38,205.64 L525.41,205.58 L525.44,205.52 L525.48,205.44 L525.53,205.35 L525.58,205.26 L525.63,205.15 L525.69,205.03 L525.76,204.90 L525.84,204.75 L525.92,204.60 L526.01,204.43 L526.11,204.25 L526.21,204.06 L526.33,203.86 L526.45,203.64 L526.58,203.42 L526.71,203.18 L526.86,202.93 L527.01,202.67 L527.18,202.40 L527.35,202.12 L527.53,201.83 L527.72,201.53 L527.92,201.22 L528.13,200.91 L528.35,200.58 L528.58,200.25 L528.82,199.91 L529.07,199.57 L529.33,199.22 L529.60,198.86 L529.88,198.50 L530.17,198.13 L530.47,197.76 L530.79,197.39 L531.11,197.02 L531.45,196.64 L531.79,196.26 L532.15,195.87 L532.52,195.49 L532.90,195.11 L533.30,194.73 L533.70,194.34 L534.12,193.96 L534.55,193.58 L534.99,193.20 L535.45,192.82 L535.92,192.44 L536.40,192.07 L536.89,191.70 L537.40,191.33 L537.92,190.97 L538.45,190.60 L538.99,190.25 L539.55,189.89 L540.12,189.54 L540.71,189.20 L541.31,188.85 L541.92,188.52 L542.55,188.18 L543.19,187.85 L543.85,187.53 L544.52,187.21 L545.20,186.90 L545.90,186.59 L546.61,186.28 L547.34,185.98 L548.08,185.69 L548.84,185.40 L549.61,185.12 L550.40,184.84 L551.20,184.56 L552.01,184.29 L552.85,184.03 L553.69,183.77 L554.56,183.51 L555.44,183.26 L556.33,183.02 L557.24,182.78 L558.17,182.54 L559.11,182.31 L560.07,182.08 L561.04,181.86 L562.03,181.64 L563.04,181.43 L564.06,181.22 L565.10,181.01 L566.15,180.81 L567.22,180.61 L568.31,180.42 L569.42,180.23 L570.54,180.05 L571.68,179.87 L572.84,179.69 L574.01,179.51 L575.20,179.34 L576.41,179.18 L577.64,179.01 L578.88,178.85 L580.14,178.70 L581.42,178.54 L582.71,178.39 L584.03,178.25 L585.36,178.10 L586.71,177.96 L588.08,177.82 L589.46,177.69 L590.87,177.55 L592.29,177.42 L593.73,177.30 L595.19,177.17 L596.67,177.05 L598.16,176.93 L599.68,176.81 L601.21,176.70 L602.76,176.59 L604.33,176.48 L605.92,176.37 L607.53,176.26 L609.16,176.16 L610.81,176.06 L612.48,175.96 L614.16,175.86 L615.87,175.77 L617.59,175.68 L619.34,175.58 L621.10,175.49 L622.89,175.41 L624.69,175.32 L626.51,175.24 L628.36,175.15 L630.22,175.07 L632.10,174.99 L634.01,174.91 L635.93,174.84 L637.88,174.76 L639.84,174.69 L641.83,174.62 L643.83,174.55 L645.86,174.48 L647.90,174.41 L649.97,174.34 L652.06,174.28 L654.17,174.21 L656.30,174.15 L658.45,174.09 L660.62,174.03 L662.81,173.97 L665.03,173.91 L667.26,173.85 L669.52,173.79 L671.80,173.74" fill="none" stroke="#111" stroke-width="2.4" stroke-linejoin="round" stroke-linecap="butt"/>
<line x1="524.8" y1="201.0" x2="524.8" y2="211.2" stroke="#1a1a1a" stroke-width="1.1" />
<line x1="521.0999999999999" y1="201.0" x2="528.5" y2="201.0" stroke="#1a1a1a" stroke-width="1.1" />
<line x1="521.0999999999999" y1="211.2" x2="528.5" y2="211.2" stroke="#1a1a1a" stroke-width="1.1" />
<rect x="522.70" y="203.30" width="5.2" height="5.2" fill="#111"/>
<path d="M522.05,207.80 L528.55,207.80 L525.30,202.00 Z" fill="#111"/>
<line x1="539.9" y1="126" x2="539.9" y2="149.9" stroke="#1a1a1a" stroke-width="1.1" />
<line x1="535.9" y1="126" x2="543.9" y2="126" stroke="#1a1a1a" stroke-width="1.1" />
<line x1="535.9" y1="149.9" x2="543.9" y2="149.9" stroke="#1a1a1a" stroke-width="1.1" />
<rect x="537.10" y="134.60" width="5.6" height="5.6" fill="#111"/>
<line x1="598.6" y1="90.3" x2="598.6" y2="110.9" stroke="#1a1a1a" stroke-width="1.1" />
<line x1="595.0" y1="90.3" x2="602.2" y2="90.3" stroke="#1a1a1a" stroke-width="1.1" />
<line x1="595.0" y1="110.9" x2="602.2" y2="110.9" stroke="#1a1a1a" stroke-width="1.1" />
<rect x="595.80" y="97.40" width="5.6" height="5.6" fill="#111"/>
<line x1="671.8" y1="119.3" x2="671.8" y2="159.6" stroke="#1a1a1a" stroke-width="1.1" />
<line x1="667.5999999999999" y1="119.3" x2="676.0" y2="119.3" stroke="#1a1a1a" stroke-width="1.1" />
<line x1="667.5999999999999" y1="159.6" x2="676.0" y2="159.6" stroke="#1a1a1a" stroke-width="1.1" />
<rect x="669.00" y="136.60" width="5.6" height="5.6" fill="#111"/>
<line x1="540.0" y1="183.2" x2="540.0" y2="201.0" stroke="#1a1a1a" stroke-width="1.1" />
<line x1="536.4" y1="183.2" x2="543.6" y2="183.2" stroke="#1a1a1a" stroke-width="1.1" />
<line x1="536.4" y1="201.0" x2="543.6" y2="201.0" stroke="#1a1a1a" stroke-width="1.1" />
<path d="M537.25,194.30 L543.75,194.30 L540.50,188.50 Z" fill="#111"/>
<line x1="598.6" y1="159.6" x2="598.6" y2="184.4" stroke="#1a1a1a" stroke-width="1.1" />
<line x1="595.3000000000001" y1="159.6" x2="601.9" y2="159.6" stroke="#1a1a1a" stroke-width="1.1" />
<line x1="595.3000000000001" y1="184.4" x2="601.9" y2="184.4" stroke="#1a1a1a" stroke-width="1.1" />
<path d="M595.35,173.60 L601.85,173.60 L598.60,167.80 Z" fill="#111"/>
<line x1="671.9" y1="167.9" x2="671.9" y2="186.0" stroke="#1a1a1a" stroke-width="1.1" />
<line x1="668.1" y1="167.9" x2="675.6999999999999" y2="167.9" stroke="#1a1a1a" stroke-width="1.1" />
<line x1="668.1" y1="186.0" x2="675.6999999999999" y2="186.0" stroke="#1a1a1a" stroke-width="1.1" />
<path d="M668.65,178.70 L675.15,178.70 L671.90,172.90 Z" fill="#111"/>
<path d="M540.60,114.80 L541.10,111.15 L539.10,111.15 L539.60,114.80Z M540.36,115.23 L543.66,113.83 L542.63,112.11 L539.84,114.37Z M540.36,114.37 L537.57,112.11 L536.54,113.83 L539.84,115.23Z M539.60,114.80 L539.10,118.45 L541.10,118.45 L540.60,114.80Z M539.84,114.37 L536.54,115.77 L537.57,117.49 L540.36,115.23Z M539.84,115.23 L542.63,117.49 L543.66,115.77 L540.36,114.37Z" fill="#111"/>
<circle cx="540.10" cy="114.80" r="0.9" fill="#111"/>
<path d="M599.50,82.80 L600.00,79.15 L598.00,79.15 L598.50,82.80Z M599.26,83.23 L602.56,81.83 L601.53,80.11 L598.74,82.37Z M599.26,82.37 L596.47,80.11 L595.44,81.83 L598.74,83.23Z M598.50,82.80 L598.00,86.45 L600.00,86.45 L599.50,82.80Z M598.74,82.37 L595.44,83.77 L596.47,85.49 L599.26,83.23Z M598.74,83.23 L601.53,85.49 L602.56,83.77 L599.26,82.37Z" fill="#111"/>
<circle cx="599.00" cy="82.80" r="0.9" fill="#111"/>
<path d="M672.60,108.40 L673.10,104.75 L671.10,104.75 L671.60,108.40Z M672.36,108.83 L675.66,107.43 L674.63,105.71 L671.84,107.97Z M672.36,107.97 L669.57,105.71 L668.54,107.43 L671.84,108.83Z M671.60,108.40 L671.10,112.05 L673.10,112.05 L672.60,108.40Z M671.84,107.97 L668.54,109.37 L669.57,111.09 L672.36,108.83Z M671.84,108.83 L674.63,111.09 L675.66,109.37 L672.36,107.97Z" fill="#111"/>
<circle cx="672.10" cy="108.40" r="0.9" fill="#111"/>
<path d="M599.30,150.10 L599.80,146.45 L597.80,146.45 L598.30,150.10Z M599.06,150.53 L602.36,149.13 L601.33,147.41 L598.54,149.67Z M599.06,149.67 L596.27,147.41 L595.24,149.13 L598.54,150.53Z M598.30,150.10 L597.80,153.75 L599.80,153.75 L599.30,150.10Z M598.54,149.67 L595.24,151.07 L596.27,152.79 L599.06,150.53Z M598.54,150.53 L601.33,152.79 L602.36,151.07 L599.06,149.67Z" fill="#111"/>
<circle cx="598.80" cy="150.10" r="0.9" fill="#111"/>
<path d="M672.10,193.90 L672.60,190.25 L670.60,190.25 L671.10,193.90Z M671.86,194.33 L675.16,192.93 L674.13,191.21 L671.34,193.47Z M671.86,193.47 L669.07,191.21 L668.04,192.93 L671.34,194.33Z M671.10,193.90 L670.60,197.55 L672.60,197.55 L672.10,193.90Z M671.34,193.47 L668.04,194.87 L669.07,196.59 L671.86,194.33Z M671.34,194.33 L674.13,196.59 L675.16,194.87 L671.86,193.47Z" fill="#111"/>
<circle cx="671.60" cy="193.90" r="0.9" fill="#111"/>
<clipPath id="cc"><rect x="0" y="0" width="682.3" height="380"/></clipPath><g clip-path="url(#cc)">
<text transform="translate(677.1,40.2) scale(0.96,1.13)" font-family="Liberation Serif" font-size="25" font-weight="bold" text-anchor="middle" fill="#0a0a0a" stroke="#0a0a0a" stroke-width="0.5" >C</text>
</g>
</g>
</svg>
</body></html>
